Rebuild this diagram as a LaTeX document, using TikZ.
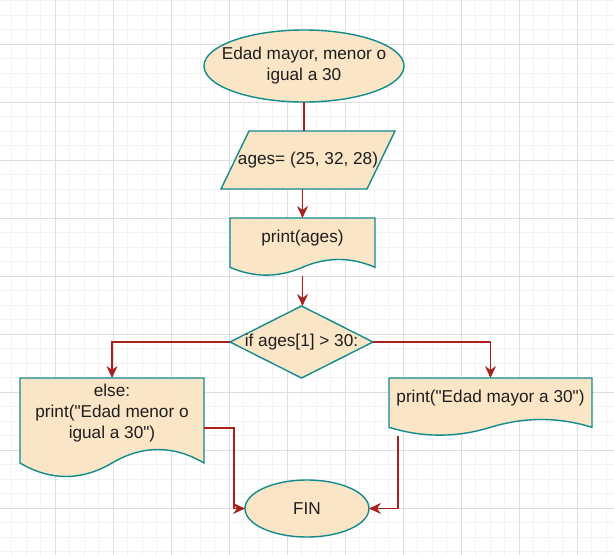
\documentclass[tikz,border=0pt]{standalone}
\usepackage{fontspec}
\setmainfont{Liberation Sans}
\usepackage{tikz}
\usetikzlibrary{arrows.meta}
\usepackage{xcolor}
\definecolor{Fill}{RGB}{250,229,199}
\definecolor{Edge}{RGB}{18,139,141}
\definecolor{Link}{RGB}{170,32,28}
\definecolor{Ink}{RGB}{30,30,30}
\definecolor{GridMinor}{RGB}{242,242,242}
\definecolor{GridMajor}{RGB}{222,222,222}

\begin{document}
\begin{tikzpicture}[x=1pt,y=-1pt,>={Stealth[length=12pt,width=11pt,inset=4pt]},
  blk/.style={fill=Fill, draw=Edge, line width=1.4pt},
  box/.style={inner sep=2pt, outer sep=0pt, text=Ink, align=center,
    font=\fontsize{17.2}{21}\selectfont},
  link/.style={draw=Link, line width=1.4pt}]
\useasboundingbox (0,0) rectangle (614,555);
\fill[white] (0,0) rectangle (614,555);

% grid
\foreach \i in {1,...,42} \draw[GridMinor, line width=0.8pt] (-2.7+14.5*\i,0) -- ++(0,555);
\foreach \i in {0,...,38} \draw[GridMinor, line width=0.8pt] (0,0.8+14.5*\i) -- ++(614,0);
\foreach \i in {0,...,9} \draw[GridMajor, line width=0.8pt] (55.3+58*\i,0) -- ++(0,555);
\foreach \i in {0,...,8} \draw[GridMajor, line width=0.8pt] (0,44.3+58*\i) -- ++(614,0);

% shapes
\filldraw[blk] (304,66) ellipse [x radius=100, y radius=36];
\filldraw[blk] (221,189) -- (367,189) -- (395,131) -- (249,131) -- cycle;
\filldraw[blk] (230,218) -- (375,218) -- (375,267.3)
  .. controls (350.83,256.86) and (326.67,256.86) .. (302.5,267.3)
  .. controls (278.33,277.74) and (254.17,277.74) .. (230,267.3) -- cycle;
\filldraw[blk] (301.5,306) -- (373,342) -- (301.5,378) -- (230,342) -- cycle;
\filldraw[blk] (20,378) -- (204,378) -- (204,463)
  .. controls (173.33,445) and (142.67,445) .. (112,463)
  .. controls (81.33,481) and (50.67,481) .. (20,463) -- cycle;
\filldraw[blk] (389,378) -- (592,378) -- (592,427.3)
  .. controls (558.17,416.86) and (524.33,416.86) .. (490.5,427.3)
  .. controls (456.67,437.74) and (422.83,437.74) .. (389,427.3) -- cycle;
\filldraw[blk] (307,508.5) ellipse [x radius=62, y radius=28.5];

% nodes
\node[box, minimum width=200, minimum height=72] (start) at (304,66) {Edad mayor, menor o\\igual a 30};
\node[box, minimum width=174, minimum height=58] (ages) at (308,160) {ages= (25, 32, 28)};
\node[box, minimum width=145, minimum height=58] (print) at (302.5,247) {};
\node[box] (print-txt) at ([yshift=9pt]print) {print(ages)};
\node[box, minimum width=143, minimum height=72] (cond) at (301.5,342) {if ages[1] > 30:};
\node[box, minimum width=184, minimum height=100] (menor) at (112,428) {};
\node[box] (menor-txt) at ([yshift=15pt]menor) {else:\\print(\textquotedbl Edad menor o\\igual a 30\textquotedbl)};
\node[box, minimum width=203, minimum height=58] (mayor) at (490.5,407) {};
\node[box] (mayor-txt) at ([yshift=9pt]mayor) {print(\textquotedbl Edad mayor a 30\textquotedbl)};
\node[box, minimum width=124, minimum height=57] (fin) at (307,508.5) {FIN};

% connectors
\draw[link] (start.south) -- (start.south |- ages.north);
\draw[link,->] (print.north |- ages.south) -- (print.north);
\draw[link,->] (print.south) -- (print.south |- cond.north);
\draw[link,->] (cond.west) -| (menor.north);
\draw[link,->] (cond.east) -| (mayor.north);
\draw[link,->] (menor.east) -- ++(30,0) |- (fin.west);
\draw[link,->] ([xshift=9pt]mayor.south west) |- (fin.east);
\end{tikzpicture}
\end{document}
